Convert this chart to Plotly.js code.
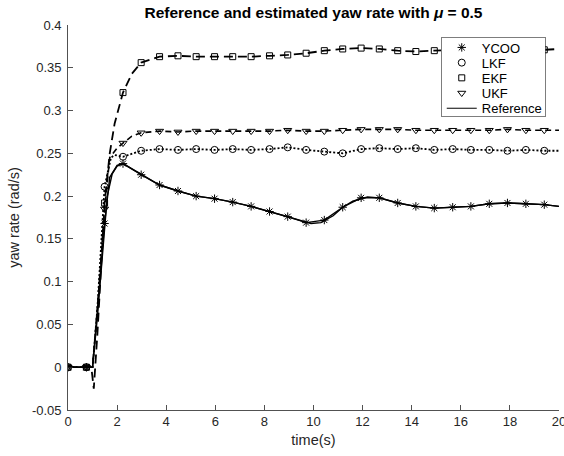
<!DOCTYPE html>
<html>
<head>
<meta charset="utf-8">
<script src="https://cdn.plot.ly/plotly-3.0.1.min.js"></script>
<style>html,body{margin:0;padding:0;background:#fff;}#chart{width:564px;height:456px;}</style>
</head>
<body>
<div id="chart"></div>
<script>
// marker sample times (s)
const tMarks = [0,0.75,1.49,2.24,2.98,3.73,4.48,5.22,5.97,6.71,7.46,8.21,8.95,9.70,10.44,11.19,11.94,12.68,13.43,14.17,14.92,15.67,16.41,17.16,17.90,18.65,19.40];
const ycooMarks = [0,0,0.168,0.238,0.225,0.213,0.206,0.200,0.197,0.193,0.188,0.182,0.176,0.169,0.172,0.187,0.198,0.198,0.192,0.188,0.186,0.187,0.188,0.191,0.192,0.191,0.190];
const lkfMarks  = [0,0,0.211,0.246,0.253,0.255,0.254,0.255,0.254,0.255,0.254,0.255,0.257,0.254,0.252,0.250,0.255,0.256,0.255,0.256,0.254,0.255,0.254,0.254,0.253,0.254,0.253];
const ekfMarks  = [0,0,0.192,0.321,0.356,0.363,0.364,0.363,0.363,0.363,0.363,0.364,0.365,0.367,0.370,0.372,0.373,0.372,0.370,0.369,0.370,0.371,0.372,0.372,0.371,0.370,0.371];
const ukfMarks  = [0,0,0.185,0.262,0.274,0.276,0.275,0.276,0.276,0.276,0.276,0.276,0.277,0.276,0.276,0.277,0.278,0.278,0.278,0.277,0.277,0.277,0.277,0.277,0.278,0.277,0.277];

// continuous lines
const refT = [0,1.0,1.2,1.4,1.6,1.8,2.0,2.24,2.6,2.98,3.73,4.48,5.22,5.97,6.71,7.46,8.21,8.95,9.5,9.9,10.3,10.8,11.19,11.6,12.2,12.68,13.43,14.17,14.92,15.67,16.41,17.16,17.90,18.65,19.40,20];
const refY = [0,0,0.06,0.135,0.2,0.226,0.235,0.238,0.232,0.225,0.213,0.206,0.200,0.197,0.193,0.188,0.182,0.176,0.171,0.168,0.169,0.177,0.187,0.194,0.199,0.198,0.192,0.188,0.186,0.187,0.188,0.191,0.192,0.191,0.190,0.188];

const ycooLineT = [0,0.75,1.0,1.49,1.7,2.0,2.24,2.98,3.73,4.48,5.22,5.97,6.71,7.46,8.21,8.95,9.70,10.44,11.19,11.94,12.68,13.43,14.17,14.92,15.67,16.41,17.16,17.90,18.65,19.40,20];
const ycooLineY = [0,0,0,0.168,0.222,0.236,0.238,0.225,0.213,0.206,0.200,0.197,0.193,0.188,0.182,0.176,0.169,0.172,0.187,0.198,0.198,0.192,0.188,0.186,0.187,0.188,0.191,0.192,0.191,0.190,0.188];

const lkfLineT = [0,0.75,1.0,1.2,1.49,1.65,1.75,1.9,2.24,2.98,3.73,4.48,5.22,5.97,6.71,7.46,8.21,8.95,9.70,10.44,11.19,11.94,12.68,13.43,14.17,14.92,15.67,16.41,17.16,17.90,18.65,19.40,20];
const lkfLineY = [0,0,0,0.07,0.211,0.232,0.245,0.248,0.246,0.253,0.255,0.254,0.255,0.254,0.255,0.254,0.255,0.257,0.254,0.252,0.250,0.255,0.256,0.255,0.256,0.254,0.255,0.254,0.254,0.253,0.254,0.253,0.253];

const ekfLineT = [0,0.75,0.95,1.05,1.2,1.49,1.7,1.9,2.24,2.6,2.98,3.73,4.48,5.22,5.97,6.71,7.46,8.21,8.95,9.70,10.44,11.19,11.94,12.68,13.43,14.17,14.92,15.67,16.41,17.16,17.90,18.65,19.40,20];
const ekfLineY = [0,0,0,-0.025,0.04,0.192,0.25,0.285,0.321,0.343,0.356,0.363,0.364,0.363,0.363,0.363,0.363,0.364,0.365,0.367,0.370,0.372,0.373,0.372,0.370,0.369,0.370,0.371,0.372,0.372,0.371,0.370,0.371,0.372];

const ukfLineT = [0,0.75,1.0,1.2,1.49,1.7,2.0,2.24,2.6,2.98,3.73,4.48,5.22,5.97,6.71,7.46,8.21,8.95,9.70,10.44,11.19,11.94,12.68,13.43,14.17,14.92,15.67,16.41,17.16,17.90,18.65,19.40,20];
const ukfLineY = [0,0,0,0.07,0.185,0.245,0.256,0.262,0.27,0.274,0.276,0.275,0.276,0.276,0.276,0.276,0.276,0.277,0.276,0.276,0.277,0.278,0.278,0.278,0.277,0.277,0.277,0.277,0.277,0.278,0.277,0.277,0.277];

const xTicks = [0,2,4,6,8,10,12,14,16,18,20];
const yTicks = [-0.05,0,0.05,0.1,0.15,0.2,0.25,0.3,0.35,0.4];
const yTickText = ["-0.05","0","0.05","0.1","0.15","0.2","0.25","0.3","0.35","0.4"];

const FONT = "Liberation Sans, Arial, Helvetica, sans-serif";
const INK = "#262626";

function lineTrace(x, y, dash, w) {
  return {x:x, y:y, type:'scatter', mode:'lines', showlegend:false, hoverinfo:'skip',
    line:{color:'#000', width:w, dash:dash}};
}
function markTrace(name, x, y, symbol, size, rank) {
  return {x:x, y:y, type:'scatter', mode:'markers', name:name, legendrank:rank,
    marker:{symbol:symbol, size:size, color:'#000', line:{color:'#000', width:1}}};
}

const data = [
  lineTrace(refT, refY, 'solid', 1.4),
  lineTrace(ycooLineT, ycooLineY, 'solid', 1.4),
  lineTrace(lkfLineT, lkfLineY, '2px,2px', 1.8),
  lineTrace(ekfLineT, ekfLineY, '9px,5px', 1.8),
  lineTrace(ukfLineT, ukfLineY, '6px,4px', 1.6),
  markTrace('YCOO', tMarks, ycooMarks, 'asterisk-open', 7, 1),
  markTrace('LKF', tMarks, lkfMarks, 'circle-open', 7, 2),
  markTrace('EKF', tMarks, ekfMarks, 'square-open', 6, 3),
  markTrace('UKF', tMarks, ukfMarks, 'triangle-down-open', 7, 4),
  {x:[null], y:[null], type:'scatter', mode:'lines', name:'Reference', legendrank:5,
    line:{color:'#000', width:1}}
];

const layout = {
  width:564, height:456,
  margin:{l:68, r:5, t:25, b:46},
  paper_bgcolor:'#fff', plot_bgcolor:'#fff',
  font:{family:FONT, size:13, color:INK},
  title:{text:'<b>Reference and estimated yaw rate with <i>μ</i> = 0.5</b>',
    font:{family:FONT, size:15.5, color:'#000'}, xref:'paper', x:0.5, xanchor:'center',
    yref:'container', y:0.972, yanchor:'middle'},
  xaxis:{range:[0,20], tickvals:xTicks, ticktext:xTicks.map(String), ticks:'inside', ticklen:5,
    tickcolor:INK, tickwidth:0.8, showline:true, linecolor:INK, linewidth:0.8, showgrid:false,
    zeroline:false, mirror:false, tickfont:{size:13, color:INK}, ticklabeloverflow:'allow',
    title:{text:'time(s)', font:{size:14.5, color:INK}, standoff:6}},
  yaxis:{range:[-0.05,0.4], tickvals:yTicks, ticktext:yTickText, ticks:'inside', ticklen:5,
    tickcolor:INK, tickwidth:0.8, showline:true, linecolor:INK, linewidth:0.8, showgrid:false,
    zeroline:false, mirror:false, tickfont:{size:13, color:INK}, ticklabelstandoff:3,
    ticklabeloverflow:'allow',
    title:{text:'yaw rate (rad/s)', font:{size:14.5, color:INK}, standoff:8}},
  legend:{x:0.760, y:0.969, xanchor:'left', yanchor:'top', bgcolor:'#fff',
    bordercolor:INK, borderwidth:0.6, font:{size:13, color:'#000'}, tracegroupgap:0},
  showlegend:true
};

Plotly.newPlot('chart', data, layout, {displayModeBar:false, staticPlot:true}).then(function(gd){
  // compact the legend rows to match the reference spacing
  var leg = gd.querySelector('g.legend');
  if (!leg) return;
  var items = leg.querySelectorAll('g.traces');
  items.forEach(function(it, i){
    var tr = it.getAttribute('transform') || '';
    var m = /translate\(\s*([-\d.]+)[ ,]+([-\d.]+)\s*\)/.exec(tr);
    var x0 = m ? parseFloat(m[1]) : 0;
    it.setAttribute('transform', 'translate(' + x0 + ',' + (10.5 + i * 15.2) + ')');
  });
  var bg = leg.querySelector('rect.bg');
  if (bg) { bg.setAttribute('height', 79); bg.setAttribute('width', 104); }
});
</script>
</body>
</html>
